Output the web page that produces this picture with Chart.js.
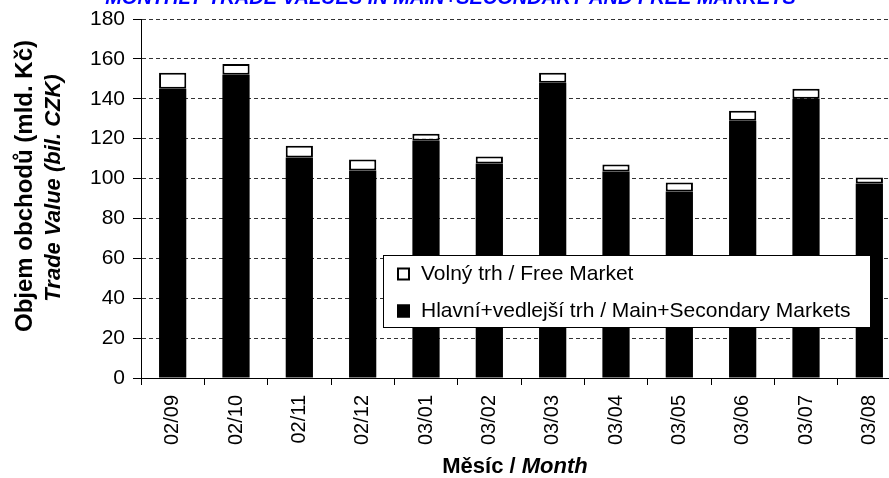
<!DOCTYPE html>
<html lang="cs">
<head>
<meta charset="UTF-8">
<title>Monthly trade values</title>
<style>
  html, body { margin: 0; padding: 0; overflow: hidden; background: #fff; }
  body { width: 889px; height: 478px; position: relative; }
  /* the original chart is a little wider/taller than the picture, so it is clipped */
  #wrap { position: absolute; left: 0; top: -16px; width: 905px; height: 494px; }
</style>
<script src="https://cdn.jsdelivr.net/npm/chart.js"></script>
</head>
<body>
<div id="wrap"><canvas id="tradeChart"></canvas></div>
<script>
// data (bil. CZK)
const months = ['02/09', '02/10', '02/11', '02/12', '03/01', '03/02', '03/03', '03/04', '03/05', '03/06', '03/07', '03/08'];
const mainMarket = [145, 152, 110.5, 104, 119, 107.5, 148, 103.5, 93.5, 129, 140, 97.5];
const freeMarket = [8, 5.5, 6, 5.5, 3.5, 3.5, 5, 3.5, 4.5, 5, 5, 3];
const yMin = 0;
const yMax = 180;
const yStep = 20;

const chartTitle = 'MONTHLY TRADE VALUES IN MAIN+SECONDARY AND FREE MARKETS';
const yTitleCz = 'Objem obchodů (mld. Kč)';
const yTitleEn = 'Trade Value (bil. CZK)';
const xTitleCz = 'Měsíc / ';
const xTitleEn = 'Month';

const FONT = '"Liberation Sans", Arial, sans-serif';

// axis titles with mixed bold / italic lines
const axisTitles = {
    id: 'axisTitles',
    afterDraw(chart) {
        const ctx = chart.ctx;
        ctx.save();
        ctx.fillStyle = '#000';
        ctx.textAlign = 'center';
        ctx.textBaseline = 'alphabetic';

        ctx.save();
        ctx.translate(32, 202);
        ctx.rotate(-Math.PI / 2);
        ctx.font = 'bold 24px ' + FONT;
        ctx.fillText(yTitleCz, 0, 0);
        ctx.restore();

        ctx.save();
        ctx.translate(60, 204);
        ctx.rotate(-Math.PI / 2);
        ctx.font = 'italic bold 22px ' + FONT;
        ctx.fillText(yTitleEn, 0, 0);
        ctx.restore();

        // x title
        ctx.textAlign = 'left';
        ctx.font = 'bold 22px ' + FONT;
        const w1 = ctx.measureText(xTitleCz).width;
        ctx.font = 'italic bold 22px ' + FONT;
        const w2 = ctx.measureText(xTitleEn).width;
        let x = 515 - (w1 + w2) / 2;
        ctx.font = 'bold 22px ' + FONT;
        ctx.fillText(xTitleCz, x, 489);
        ctx.font = 'italic bold 22px ' + FONT;
        ctx.fillText(xTitleEn, x + w1, 489);
        ctx.restore();
    }
};

// boxed legend sitting over the bars
const boxLegend = {
    id: 'boxLegend',
    afterDraw(chart) {
        const ctx = chart.ctx;
        const bx = 383, by = 271, bw = 487, bh = 72;
        ctx.save();
        ctx.fillStyle = '#fff';
        ctx.fillRect(bx, by, bw, bh);
        ctx.strokeStyle = '#000';
        ctx.lineWidth = 1;
        ctx.strokeRect(bx + 0.5, by + 0.5, bw, bh);

        const items = chart.data.datasets.slice().reverse();
        ctx.font = '21px ' + FONT;
        ctx.textBaseline = 'middle';
        items.forEach((ds, i) => {
            const cy = 290 + i * 37;
            ctx.fillStyle = ds.backgroundColor;
            ctx.fillRect(397, cy - 6.5, 13, 13);
            ctx.strokeStyle = '#000';
            ctx.lineWidth = 2;
            ctx.strokeRect(398, cy - 5.5, 11, 11);
            ctx.fillStyle = '#000';
            ctx.fillText(ds.label, 421, cy);
        });
        ctx.restore();
    }
};

const ctx = document.getElementById('tradeChart').getContext('2d');
const tradeChart = new Chart(ctx, {
    type: 'bar',
    data: {
        labels: months,
        datasets: [
            {
                label: 'Hlavní+vedlejší trh / Main+Secondary Markets',
                data: mainMarket,
                backgroundColor: '#000',
                borderColor: '#000',
                borderWidth: 0
            },
            {
                label: 'Volný trh / Free Market',
                data: freeMarket,
                backgroundColor: '#fff',
                borderColor: '#000',
                borderWidth: 2,
                borderSkipped: false
            }
        ]
    },
    options: {
        responsive: true,
        maintainAspectRatio: false,
        animation: false,
        datasets: {
            bar: { categoryPercentage: 1, barPercentage: 0.43 }
        },
        layout: { padding: { top: 2, right: 4, left: 0, bottom: 0 } },
        plugins: {
            legend: { display: false },
            tooltip: { enabled: false },
            title: {
                display: true,
                text: chartTitle,
                color: '#0000ff',
                font: { family: FONT, size: 20, weight: 'bold', style: 'italic' },
                padding: { top: 0, bottom: 9 }
            }
        },
        scales: {
            x: {
                stacked: true,
                offset: true,
                afterFit(scale) { scale.height = 100; },
                grid: {
                    display: true,
                    drawOnChartArea: false,
                    drawTicks: true,
                    tickLength: 7,
                    offset: true,
                    tickColor: '#000'
                },
                border: { display: true, color: '#000', width: 1 },
                ticks: {
                    autoSkip: false,
                    maxRotation: 90,
                    minRotation: 90,
                    padding: 10,
                    color: '#000',
                    font: { family: FONT, size: 20 }
                }
            },
            y: {
                stacked: true,
                min: yMin,
                max: yMax,
                afterFit(scale) { scale.width = 141; },
                grid: {
                    color: '#333',
                    lineWidth: 1,
                    drawTicks: true,
                    tickLength: 8,
                    tickColor: '#000',
                    tickBorderDash: []
                },
                border: { display: true, color: '#000', width: 1, dash: [4, 3] },
                ticks: {
                    stepSize: yStep,
                    padding: 8,
                    color: '#000',
                    font: { family: FONT, size: 21 }
                }
            }
        }
    },
    plugins: [axisTitles, boxLegend]
});
</script>
</body>
</html>
